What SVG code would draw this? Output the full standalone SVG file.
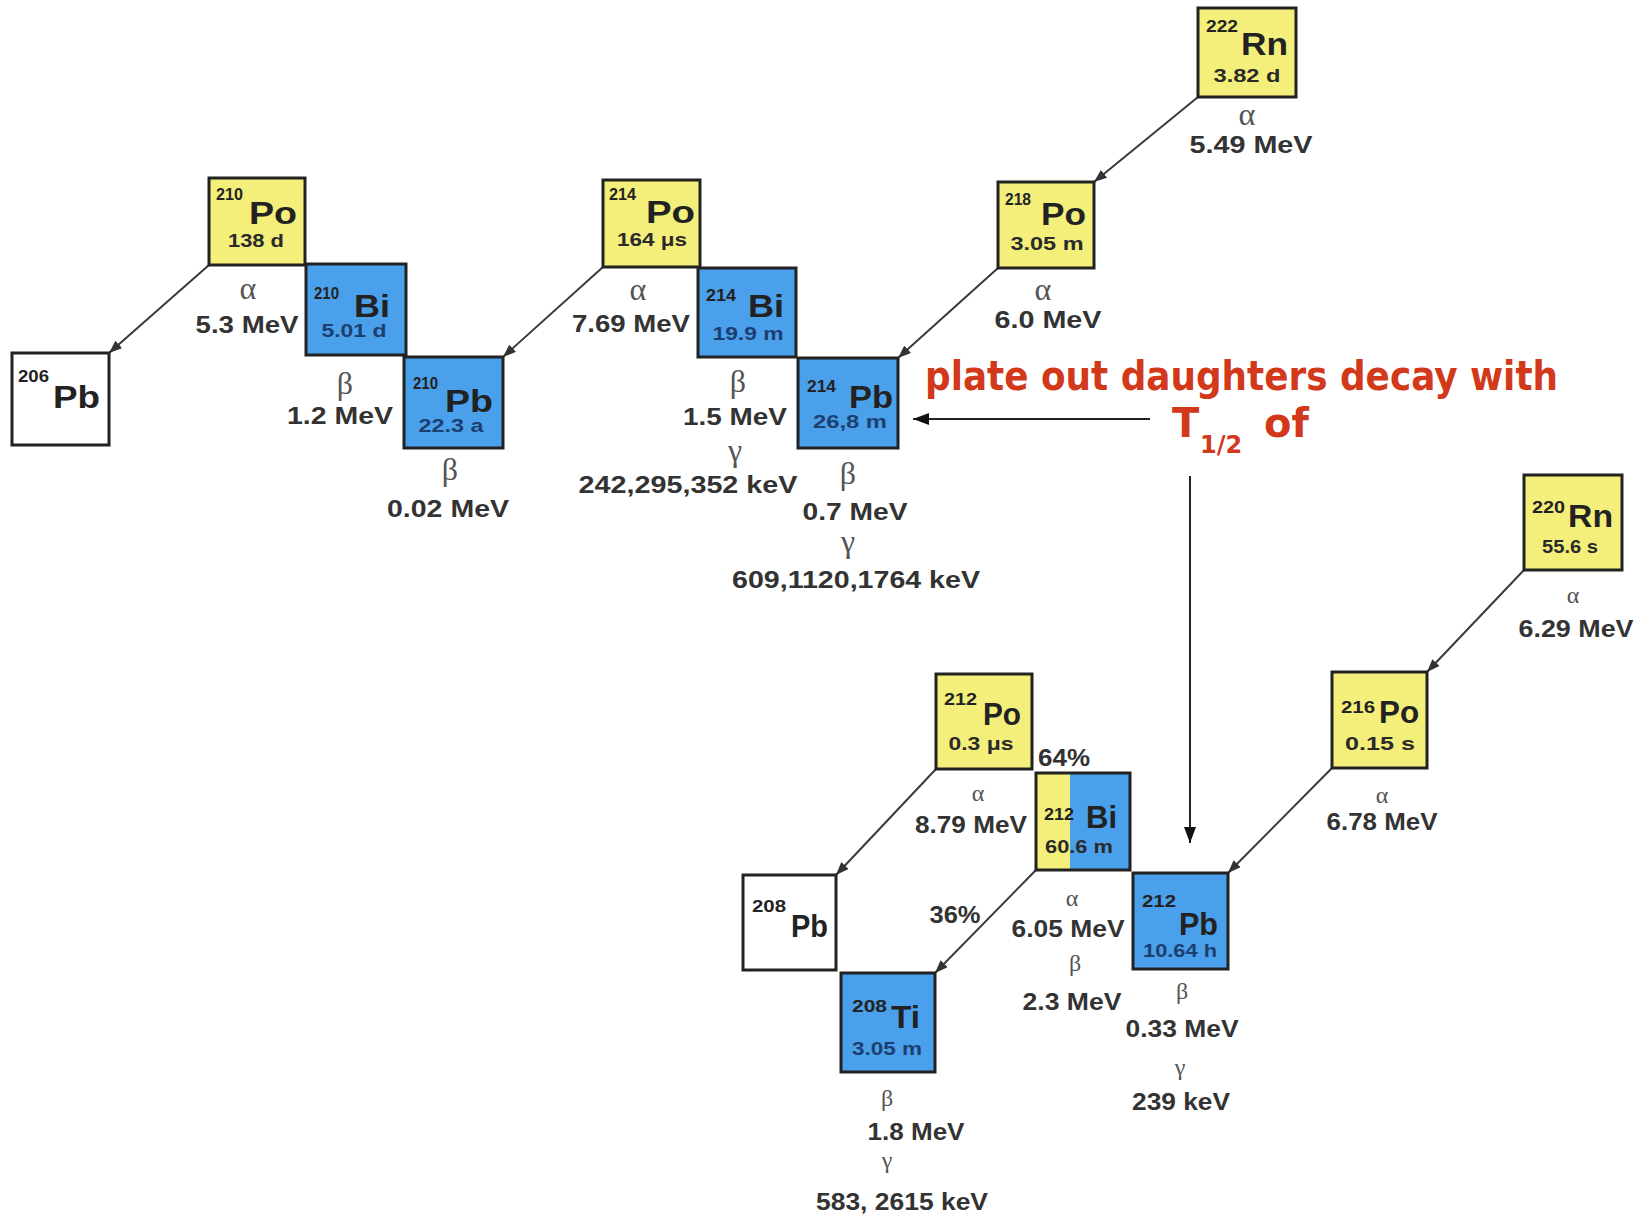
<svg xmlns="http://www.w3.org/2000/svg" width="1650" height="1216" viewBox="0 0 1650 1216">
<defs>
<marker id="ah" markerWidth="13" markerHeight="10" refX="13" refY="5" orient="auto" markerUnits="userSpaceOnUse"><path d="M0,0 L13,5 L0,10 z" fill="#333"/></marker>
<marker id="ahb" markerWidth="16" markerHeight="12" refX="16" refY="6" orient="auto" markerUnits="userSpaceOnUse"><path d="M0,0 L16,6 L0,12 z" fill="#111"/></marker>
<style>
.bx{stroke:#222;stroke-width:3}
.y{fill:#f4ef7a}
.b{fill:#4aa0ea}
.w{fill:#fff}
.sup{font-family:"Liberation Sans",Arial,sans-serif;font-weight:bold;font-size:16px;fill:#222}
.sym{font-family:"Liberation Sans",Arial,sans-serif;font-weight:bold;font-size:32px;fill:#222}
.hl{font-family:"Liberation Sans",Arial,sans-serif;font-weight:bold;font-size:19px;fill:#2a2a2a;text-anchor:middle}
.hlb{fill:#1c3f70}
.lbl{font-family:"Liberation Sans",Arial,sans-serif;font-weight:bold;font-size:24px;fill:#333;text-anchor:middle}
.gk{font-family:"Liberation Serif","Times New Roman",serif;font-size:32px;fill:#555;text-anchor:middle}
.gs{font-size:24px}
.cn{stroke:#3a3a3a;stroke-width:2;fill:none}
.red{font-family:"DejaVu Sans",sans-serif;font-weight:bold;fill:#d2381a}
</style>
</defs>
<rect width="1650" height="1216" fill="#fff"/>

<g id="connectors">
<line class="cn" x1="1198" y1="97" x2="1094" y2="182" marker-end="url(#ah)"/>
<line class="cn" x1="998" y1="268" x2="898" y2="358" marker-end="url(#ah)"/>
<line class="cn" x1="603" y1="267" x2="503" y2="357" marker-end="url(#ah)"/>
<line class="cn" x1="209" y1="265" x2="109" y2="353" marker-end="url(#ah)"/>
<line class="cn" x1="1524" y1="570" x2="1427" y2="672" marker-end="url(#ah)"/>
<line class="cn" x1="1332" y1="768" x2="1228" y2="873" marker-end="url(#ah)"/>
<line class="cn" x1="936" y1="769" x2="836" y2="875" marker-end="url(#ah)"/>
<line class="cn" x1="1036" y1="870" x2="935" y2="973" marker-end="url(#ah)"/>
<line x1="1150" y1="419" x2="913" y2="419" stroke="#222" stroke-width="2" marker-end="url(#ahb)"/>
<line x1="1190" y1="476" x2="1190" y2="843" stroke="#222" stroke-width="2" marker-end="url(#ahb)"/>
</g>

<g id="Rn222">
<rect class="bx y" x="1198" y="8" width="98" height="89"/>
<text class="sup" x="1206" y="32" textLength="32" lengthAdjust="spacingAndGlyphs">222</text>
<text class="sym" x="1241" y="55" textLength="47" lengthAdjust="spacingAndGlyphs">Rn</text>
<text class="hl" x="1247" y="82" textLength="67" lengthAdjust="spacingAndGlyphs">3.82 d</text>
<text class="gk" x="1247" y="125">α</text>
<text class="lbl" x="1251" y="153" textLength="123" lengthAdjust="spacingAndGlyphs">5.49 MeV</text>
</g>

<g id="Po218">
<rect class="bx y" x="998" y="182" width="96" height="86"/>
<text class="sup" x="1005" y="205" textLength="26" lengthAdjust="spacingAndGlyphs">218</text>
<text class="sym" x="1041" y="225" textLength="45" lengthAdjust="spacingAndGlyphs">Po</text>
<text class="hl" x="1047" y="250" textLength="73" lengthAdjust="spacingAndGlyphs">3.05 m</text>
<text class="gk" x="1043" y="300">α</text>
<text class="lbl" x="1048" y="328" textLength="107" lengthAdjust="spacingAndGlyphs">6.0 MeV</text>
</g>

<g id="Po214">
<rect class="bx y" x="603" y="180" width="97" height="87"/>
<text class="sup" x="609" y="200" textLength="27" lengthAdjust="spacingAndGlyphs">214</text>
<text class="sym" x="646" y="223" textLength="49" lengthAdjust="spacingAndGlyphs">Po</text>
<text class="hl" x="652" y="246" textLength="70" lengthAdjust="spacingAndGlyphs">164 μs</text>
<text class="gk" x="638" y="300">α</text>
<text class="lbl" x="631" y="332" textLength="118" lengthAdjust="spacingAndGlyphs">7.69 MeV</text>
</g>

<g id="Bi214">
<rect class="bx b" x="698" y="268" width="98" height="89"/>
<text class="sup" x="706" y="301" textLength="30" lengthAdjust="spacingAndGlyphs">214</text>
<text class="sym" x="748" y="317" textLength="36" lengthAdjust="spacingAndGlyphs">Bi</text>
<text class="hl hlb" x="748" y="340" textLength="71" lengthAdjust="spacingAndGlyphs">19.9 m</text>
<text class="gk" x="738" y="392">β</text>
<text class="lbl" x="735" y="425" textLength="104" lengthAdjust="spacingAndGlyphs">1.5 MeV</text>
<text class="gk" x="735" y="461">γ</text>
<text class="lbl" x="688" y="493" textLength="219" lengthAdjust="spacingAndGlyphs">242,295,352 keV</text>
</g>

<g id="Pb214">
<rect class="bx b" x="798" y="358" width="100" height="90"/>
<text class="sup" x="807" y="392" textLength="29" lengthAdjust="spacingAndGlyphs">214</text>
<text class="sym" x="849" y="408" textLength="44" lengthAdjust="spacingAndGlyphs">Pb</text>
<text class="hl hlb" x="850" y="428" textLength="74" lengthAdjust="spacingAndGlyphs">26,8 m</text>
<text class="gk" x="848" y="484">β</text>
<text class="lbl" x="855" y="520" textLength="105" lengthAdjust="spacingAndGlyphs">0.7 MeV</text>
<text class="gk" x="848" y="552">γ</text>
<text class="lbl" x="856" y="588" textLength="248" lengthAdjust="spacingAndGlyphs">609,1120,1764 keV</text>
</g>

<g id="Po210">
<rect class="bx y" x="209" y="178" width="96" height="87"/>
<text class="sup" x="216" y="200" textLength="27" lengthAdjust="spacingAndGlyphs">210</text>
<text class="sym" x="249" y="224" textLength="48" lengthAdjust="spacingAndGlyphs">Po</text>
<text class="hl" x="256" y="247" textLength="56" lengthAdjust="spacingAndGlyphs">138 d</text>
<text class="gk" x="248" y="299">α</text>
<text class="lbl" x="247" y="333" textLength="103" lengthAdjust="spacingAndGlyphs">5.3 MeV</text>
</g>

<g id="Bi210">
<rect class="bx b" x="306" y="264" width="100" height="91"/>
<text class="sup" x="314" y="299" textLength="25" lengthAdjust="spacingAndGlyphs">210</text>
<text class="sym" x="354" y="317" textLength="36" lengthAdjust="spacingAndGlyphs">Bi</text>
<text class="hl hlb" x="354" y="337" textLength="65" lengthAdjust="spacingAndGlyphs">5.01 d</text>
<text class="gk" x="345" y="394">β</text>
<text class="lbl" x="340" y="424" textLength="106" lengthAdjust="spacingAndGlyphs">1.2 MeV</text>
</g>

<g id="Pb210">
<rect class="bx b" x="404" y="357" width="99" height="91"/>
<text class="sup" x="413" y="389" textLength="25" lengthAdjust="spacingAndGlyphs">210</text>
<text class="sym" x="445" y="412" textLength="48" lengthAdjust="spacingAndGlyphs">Pb</text>
<text class="hl hlb" x="451" y="432" textLength="65" lengthAdjust="spacingAndGlyphs">22.3 a</text>
<text class="gk" x="450" y="480">β</text>
<text class="lbl" x="448" y="517" textLength="122" lengthAdjust="spacingAndGlyphs">0.02 MeV</text>
</g>

<g id="Pb206">
<rect class="bx w" x="12" y="353" width="97" height="92"/>
<text class="sup" x="18" y="382" textLength="31" lengthAdjust="spacingAndGlyphs">206</text>
<text class="sym" x="53" y="408" textLength="47" lengthAdjust="spacingAndGlyphs">Pb</text>
</g>

<g id="Rn220">
<rect class="bx y" x="1524" y="475" width="98" height="95"/>
<text class="sup" x="1532" y="513" font-size="19" textLength="33" lengthAdjust="spacingAndGlyphs">220</text>
<text class="sym" x="1568" y="527" textLength="45" lengthAdjust="spacingAndGlyphs">Rn</text>
<text class="hl" x="1570" y="553" textLength="56" lengthAdjust="spacingAndGlyphs">55.6 s</text>
<text class="gk gs" x="1573" y="603">α</text>
<text class="lbl" x="1576" y="637" textLength="115" lengthAdjust="spacingAndGlyphs">6.29 MeV</text>
</g>

<g id="Po216">
<rect class="bx y" x="1332" y="672" width="95" height="96"/>
<text class="sup" x="1341" y="713" font-size="19" textLength="34" lengthAdjust="spacingAndGlyphs">216</text>
<text class="sym" x="1379" y="723" textLength="40" lengthAdjust="spacingAndGlyphs">Po</text>
<text class="hl" x="1380" y="750" textLength="70" lengthAdjust="spacingAndGlyphs">0.15 s</text>
<text class="gk gs" x="1382" y="803">α</text>
<text class="lbl" x="1382" y="830" textLength="111" lengthAdjust="spacingAndGlyphs">6.78 MeV</text>
</g>

<g id="Po212">
<rect class="bx y" x="936" y="674" width="96" height="95"/>
<text class="sup" x="944" y="705" font-size="19" textLength="33" lengthAdjust="spacingAndGlyphs">212</text>
<text class="sym" x="983" y="725" textLength="38" lengthAdjust="spacingAndGlyphs">Po</text>
<text class="hl" x="981" y="750" textLength="65" lengthAdjust="spacingAndGlyphs">0.3 μs</text>
<text class="gk gs" x="978" y="801">α</text>
<text class="lbl" x="971" y="833" textLength="112" lengthAdjust="spacingAndGlyphs">8.79 MeV</text>
</g>

<g id="Bi212">
<rect x="1036" y="773" width="94" height="97" class="b"/>
<rect x="1036" y="773" width="34" height="97" class="y"/>
<rect x="1036" y="773" width="94" height="97" fill="none" class="bx"/>
<text class="sup" x="1044" y="820" font-size="19" textLength="30" lengthAdjust="spacingAndGlyphs">212</text>
<text class="sym" x="1086" y="828" textLength="31" lengthAdjust="spacingAndGlyphs">Bi</text>
<text class="hl" x="1079" y="853" textLength="68" lengthAdjust="spacingAndGlyphs">60.6 m</text>
<text class="lbl" x="1064" y="766" textLength="52" lengthAdjust="spacingAndGlyphs">64%</text>
<text class="lbl" x="955" y="923" textLength="51" lengthAdjust="spacingAndGlyphs">36%</text>
<text class="gk gs" x="1072" y="906">α</text>
<text class="lbl" x="1068" y="937" textLength="113" lengthAdjust="spacingAndGlyphs">6.05 MeV</text>
<text class="gk gs" x="1075" y="971">β</text>
<text class="lbl" x="1072" y="1010" textLength="99" lengthAdjust="spacingAndGlyphs">2.3 MeV</text>
</g>

<g id="Pb212">
<rect class="bx b" x="1133" y="873" width="95" height="96"/>
<text class="sup" x="1142" y="907" font-size="19" textLength="34" lengthAdjust="spacingAndGlyphs">212</text>
<text class="sym" x="1179" y="935" textLength="39" lengthAdjust="spacingAndGlyphs">Pb</text>
<text class="hl hlb" x="1180" y="957" textLength="74" lengthAdjust="spacingAndGlyphs">10.64 h</text>
<text class="gk gs" x="1182" y="999">β</text>
<text class="lbl" x="1182" y="1037" textLength="113" lengthAdjust="spacingAndGlyphs">0.33 MeV</text>
<text class="gk gs" x="1180" y="1075">γ</text>
<text class="lbl" x="1181" y="1110" textLength="98" lengthAdjust="spacingAndGlyphs">239 keV</text>
</g>

<g id="Pb208">
<rect class="bx w" x="743" y="875" width="93" height="95"/>
<text class="sup" x="752" y="912" font-size="19" textLength="34" lengthAdjust="spacingAndGlyphs">208</text>
<text class="sym" x="791" y="937" textLength="37" lengthAdjust="spacingAndGlyphs">Pb</text>
</g>

<g id="Tl208">
<rect class="bx b" x="841" y="973" width="94" height="99"/>
<text class="sup" x="852" y="1012" font-size="19" textLength="35" lengthAdjust="spacingAndGlyphs">208</text>
<text class="sym" x="891" y="1028" textLength="29" lengthAdjust="spacingAndGlyphs">Ti</text>
<text class="hl hlb" x="887" y="1055" textLength="70" lengthAdjust="spacingAndGlyphs">3.05 m</text>
<text class="gk gs" x="887" y="1106">β</text>
<text class="lbl" x="916" y="1140" textLength="97" lengthAdjust="spacingAndGlyphs">1.8 MeV</text>
<text class="gk gs" x="887" y="1168">γ</text>
<text class="lbl" x="902" y="1210" textLength="172" lengthAdjust="spacingAndGlyphs">583, 2615 keV</text>
</g>

<g id="note">
<text class="red" x="925" y="390" font-size="40" textLength="633" lengthAdjust="spacingAndGlyphs">plate out daughters decay with</text>
<text class="red" x="1172" y="437" font-size="40">T</text>
<text class="red" x="1200" y="453" font-size="24">1/2</text>
<text class="red" x="1264" y="437" font-size="40">of</text>
</g>
</svg>
